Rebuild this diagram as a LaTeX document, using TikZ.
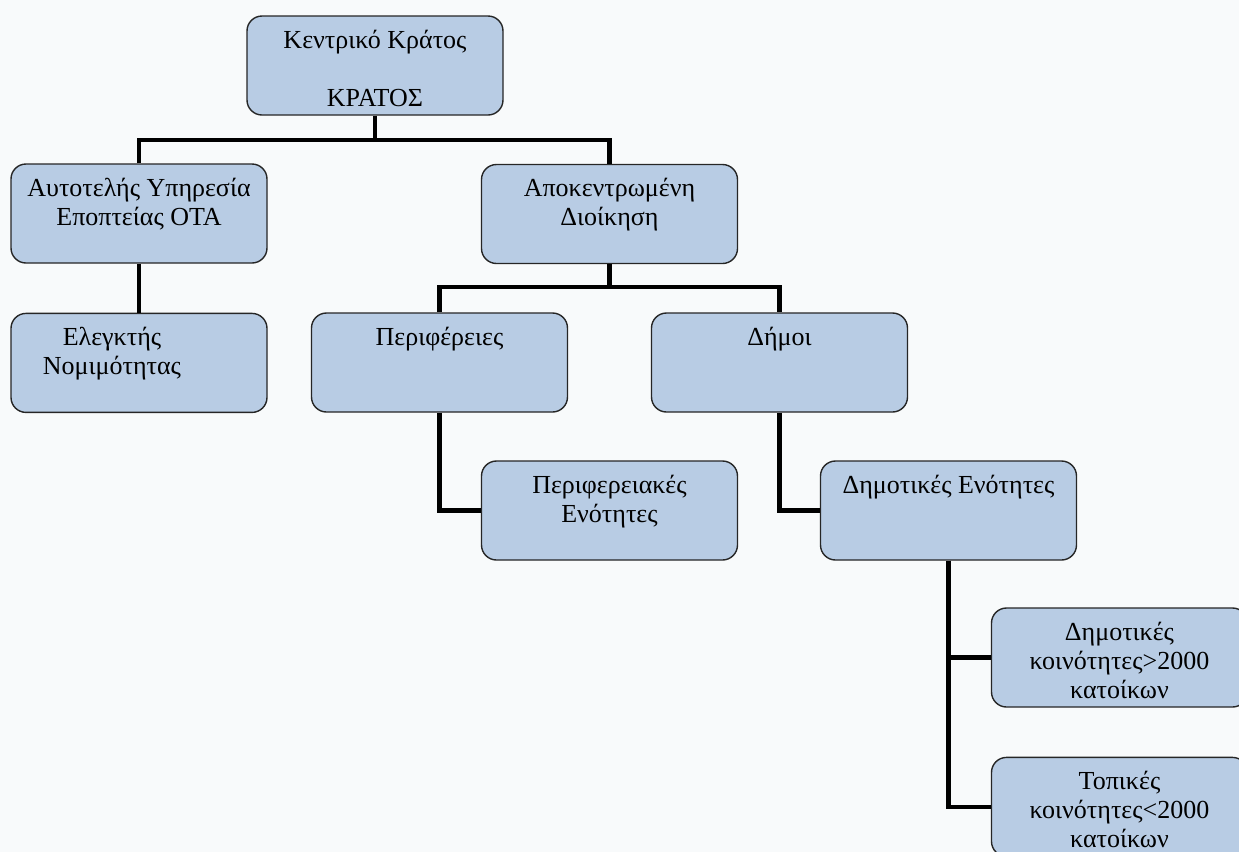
\documentclass[tikz,border=0pt]{standalone}
\usepackage{fontspec}
\setmainfont{Liberation Serif}
\usepackage{tikz}
\usetikzlibrary{ calc, positioning }
\definecolor{boxblue}{HTML}{B8CCE4}
\definecolor{paper}{HTML}{F8FAFB}
\tikzset{
x=0.5pt, y=-0.5pt, % one unit is one pixel of the scan
node distance=24.5pt, % gap between two rows of boxes
unit/.style={draw=black!85, line width=0.7pt, fill=boxblue, rounded corners=7.5pt,
  minimum width=128pt, minimum height=49.5pt, inner xsep=2pt, inner ysep=6pt,
  font=\fontsize{13pt}{14.5pt}\selectfont}, % sets the properties for each box
link/.style={line width=2.2pt, black}, % the thick connectors
}
% text sits at the top of each box
\newcommand{\boxtext}[1]{\parbox[t][37.5pt][t]{124pt}{\centering\strut#1}}

\begin{document}
\begin{tikzpicture}
  \path[use as bounding box, fill=paper] (0,0) rectangle (1239,852);
  \clip (0,0) rectangle (1239,852);

  \node[unit] (kk) at (375,65.5) {\boxtext{Κεντρικό Κράτος\\[14.5pt]ΚΡΑΤΟΣ}};
  \node[unit] (ayp) at (139,213.5) {\boxtext{Αυτοτελής Υπηρεσία\\Εποπτείας ΟΤΑ}};
  \node[unit, below=of ayp] (ele) {\boxtext{Ελεγκτής\hspace*{27pt}\mbox{}\\Νομιμότητας\hspace*{27pt}\mbox{}}};
  \node[unit] (apo) at (609.5,214) {\boxtext{Αποκεντρωμένη\\Διοίκηση}};
  \node[unit] (per) at (439.5,362.5) {\boxtext{Περιφέρειες}};
  \node[unit] (dim) at (779.5,362.5) {\boxtext{Δήμοι}};
  \node[unit] (pen) at (609.5,510.5) {\boxtext{Περιφερειακές\\Ενότητες}};
  \node[unit] (den) at (948.5,510.5) {\boxtext{Δημοτικές Ενότητες}};
  \node[unit] (dk) at (1119.5,657.5) {\boxtext{Δημοτικές\\κοινότητες>2000\\κατοίκων}};
  \node[unit, below=of dk] (tk) {\boxtext{Τοπικές\\κοινότητες<2000\\κατοίκων}};

  \coordinate (b1) at (375,140);
  \coordinate (b2) at (609.5,287);

  \draw[link] (kk.south) -- (b1);
  \draw[link] (ayp.north) |- (b1) -| (apo.north);
  \draw[link] (ayp) -- (ele);
  \draw[link] (apo.south) -- (b2);
  \draw[link] (per.north) |- (b2) -| (dim.north);
  \draw[link] (per.south) |- (pen.west);
  \draw[link] (dim.south) |- (den.west);
  \draw[link] (den.south) |- (dk.west);
  \draw[link] (den.south) |- (tk.west);
\end{tikzpicture}
\end{document}
